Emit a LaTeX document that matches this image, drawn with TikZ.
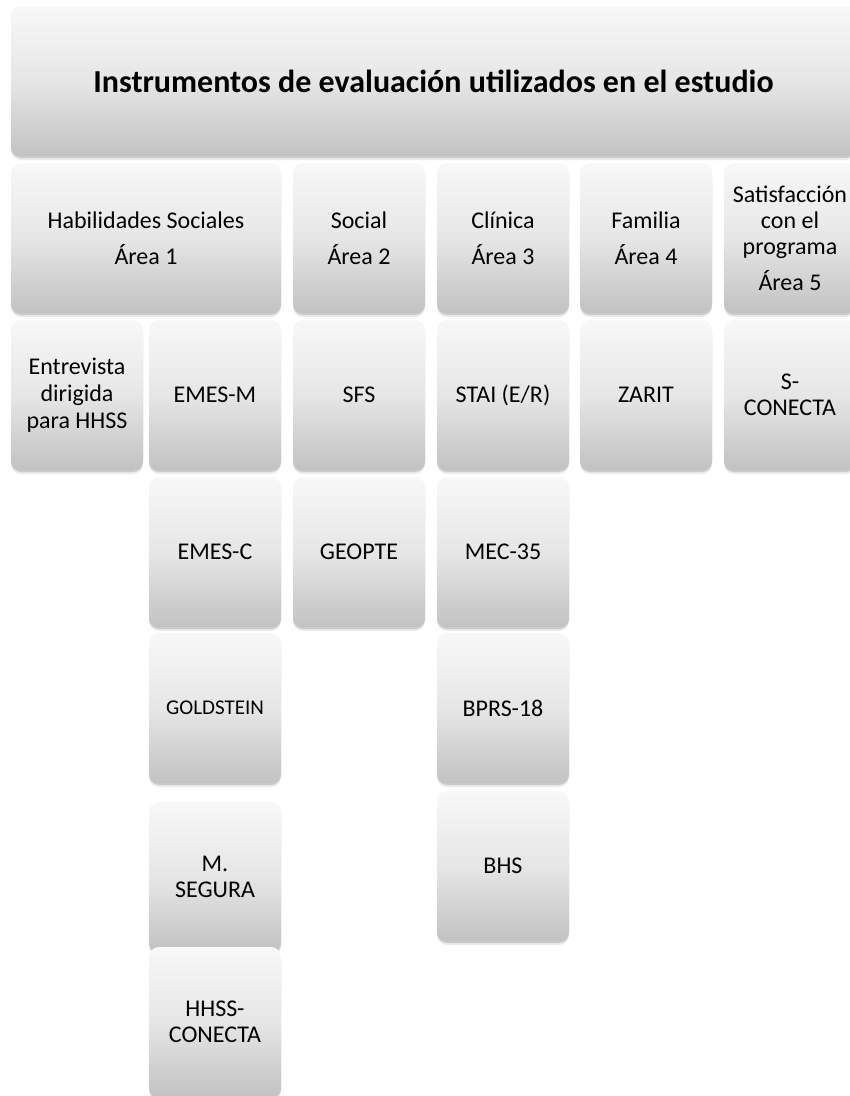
\documentclass[tikz,border=0pt]{standalone}
\usepackage{fontspec}
\setmainfont{Carlito}
\usetikzlibrary{shadows}
\definecolor{gtop}{HTML}{F8F8F8}
\definecolor{gmid}{HTML}{E6E6E6}
\definecolor{gbot}{HTML}{C2C2C2}
\begin{document}
\begin{tikzpicture}[x=1pt,y=-1pt,
  cell/.style={rounded corners=10pt, minimum width=132pt, minimum height=150pt,
    inner sep=0pt, top color=gtop, bottom color=gbot, middle color=gmid,
    align=center, text=black, font=\fontsize{24}{26}\selectfont,
    drop shadow={shadow xshift=0pt, shadow yshift=-4pt, opacity=0.08, fill=black},
    drop shadow={shadow xshift=0pt, shadow yshift=-2pt, opacity=0.14, fill=black}},
  wide/.style={cell, minimum width=#1},
  small/.style={font=\fontsize{21}{24}\selectfont}
]
\useasboundingbox (0,0) rectangle (850,1096);
\clip (0,0) rectangle (850,1096);
% title
\node[wide=845pt, font=\fontsize{32}{34}\bfseries\selectfont] (title) at (433.5,81)
  {Instrumentos de evaluación utilizados en el estudio};
% row 1
\node[wide=270pt] (hab) at (146,238) {Habilidades Sociales\\[10pt]Área 1};
\node[cell] (soc) at (359,238) {Social\\[10pt]Área 2};
\node[cell] (cli) at (503,238) {Clínica\\[10pt]Área 3};
\node[cell] (fam) at (646,238) {Familia\\[10pt]Área 4};
\node[cell] (sat) at (790,238) {Satisfacción\\con el\\programa\\[10pt]Área 5};
% row 2
\node[cell] (ent) at (77,395) {Entrevista\\[1pt]dirigida\\[1pt]para HHSS};
\node[cell] (emesm) at (215,395) {EMES-M};
\node[cell] (sfs) at (359,395) {SFS};
\node[cell] (stai) at (503,395) {STAI (E/R)};
\node[cell] (zarit) at (646,395) {ZARIT};
\node[cell] (scon) at (790,395) {S-\\CONECTA};
% row 3
\node[cell] (emesc) at (215,552) {EMES-C};
\node[cell] (geopte) at (359,552) {GEOPTE};
\node[cell] (mec) at (503,552) {MEC-35};
% row 4
\node[cell, small] (gold) at (215,708) {GOLDSTEIN};
\node[cell] (bprs) at (503,708) {BPRS-18};
% row 5
\node[cell] (bhs) at (503,866) {BHS};
\node[cell] (seg) at (215,877) {M.\\SEGURA};
% row 6
\node[cell] (hhss) at (215,1022) {HHSS-\\CONECTA};
\end{tikzpicture}
\end{document}
